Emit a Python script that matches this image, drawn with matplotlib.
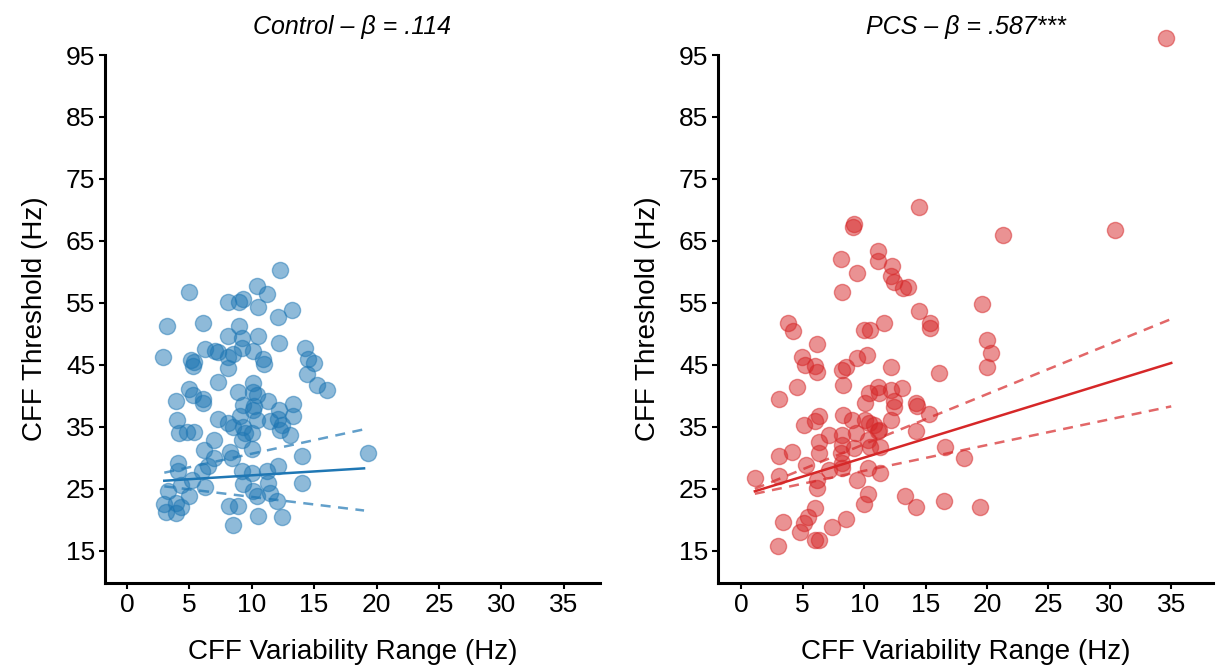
import matplotlib
matplotlib.use("Agg")
import matplotlib.pyplot as plt

plt.rcParams['font.family'] = ['Liberation Sans', 'DejaVu Sans']

# ---------------- data ----------------
ctrl_x = [12.3, 5.0, 10.4, 11.2, 8.1, 9.0, 9.3, 10.5, 13.2, 12.1, 3.2, 6.1, 9.0, 8.1, 9.2,
          10.5, 12.2, 14.3, 2.9, 6.3, 7.1, 7.3, 8.5, 8.1, 9.2, 10.1, 5.1, 5.4, 5.3, 10.9,
          11.0, 8.1, 14.5, 15.0, 14.4, 15.2, 16.0, 7.3, 5.0, 5.3, 6.1, 6.1, 3.9, 8.9, 10.1,
          10.1, 10.4, 11.3, 13.3, 9.3, 10.2, 12.2,
          4.0, 4.2, 4.8, 5.4, 7.3, 8.1, 8.5, 9.3, 9.5, 9.2, 10.0, 10.0, 9.1, 10.1, 10.4,
          11.5, 12.1, 12.4, 12.3, 13.3, 13.1, 7.0, 6.2, 8.3, 8.4, 7.0, 14.0, 4.1, 4.1, 6.5,
          6.0, 5.2, 4.3, 9.2, 10.0, 11.2, 12.1, 9.3, 11.3, 14.0, 6.3, 3.3, 10.1, 10.4, 11.5,
          12.0, 5.0, 3.0, 3.9, 4.3, 3.1, 3.9, 8.2, 8.9, 10.5, 12.4, 8.5, 19.3]
ctrl_y = [60.3, 56.7, 57.8, 56.5, 55.1, 55.1, 55.6, 54.4, 53.9, 52.8, 51.3, 51.7, 51.3, 49.6, 49.4,
          49.7, 48.6, 47.7, 46.2, 47.6, 47.3, 47.0, 46.8, 46.2, 47.7, 47.3, 45.8, 45.4, 44.8, 45.9,
          45.2, 44.5, 46.0, 45.3, 43.5, 41.7, 41.0, 42.2, 41.1, 40.2, 39.5, 38.9, 39.1, 40.7, 42.0,
          40.7, 40.2, 39.1, 38.7, 38.5, 38.3, 37.7,
          36.1, 34.0, 34.2, 34.2, 36.2, 35.6, 34.9, 34.9, 34.0, 32.9, 34.0, 31.4, 36.7, 37.7, 36.1,
          35.9, 36.2, 35.3, 34.5, 36.7, 33.7, 32.8, 31.3, 31.0, 29.9, 29.9, 30.3, 29.2, 27.8, 28.6,
          27.9, 26.5, 25.6, 27.9, 27.5, 27.9, 28.6, 25.8, 25.9, 26.0, 25.3, 24.7, 24.7, 23.8, 24.4,
          23.1, 23.8, 22.6, 22.7, 22.0, 21.3, 21.1, 22.3, 22.3, 20.6, 20.4, 19.1, 30.8]

pcs_x = [14.5, 9.2, 9.1, 8.1, 11.1, 11.1, 9.4, 12.3, 12.2, 12.4, 13.2, 13.6, 8.2, 14.5, 15.4,
         15.4, 3.8, 4.2, 11.6, 10.0, 10.5, 6.2, 4.9, 5.2, 6.0, 6.2, 8.2, 8.5, 9.4, 10.2,
         12.2, 16.1,
         4.5, 3.1, 8.3, 10.4, 11.1, 11.2, 12.2, 13.1, 10.1, 12.4, 12.4, 14.2, 14.3, 15.3,
         5.1, 6.0, 6.3, 8.3, 9.0, 10.1, 10.8, 11.2, 12.2, 14.2, 16.6, 7.1, 8.2, 8.2, 8.1,
         8.2, 8.2, 9.2, 10.3, 10.5, 11.3, 6.3, 6.3, 4.1, 3.1, 5.3, 7.1, 6.2, 6.2, 3.1, 1.1,
         10.3, 11.3, 9.4, 10.3, 10.0, 13.3, 14.2, 16.5, 6.0, 5.4, 5.1, 4.8, 3.4, 7.4, 8.5,
         6.0, 6.3, 3.0, 9.3, 10.4, 11.1,
         21.3, 30.4, 19.6, 20.0, 20.3, 20.0, 18.1, 19.4, 34.6]
pcs_y = [70.5, 67.7, 67.2, 62.1, 63.3, 61.7, 59.8, 60.9, 59.4, 58.4, 57.4, 57.5, 56.7, 53.7, 51.7,
         50.9, 51.8, 50.4, 51.8, 50.6, 50.6, 48.4, 46.3, 45.0, 44.8, 43.8, 44.2, 44.6, 46.1, 46.6,
         44.6, 43.7,
         41.5, 39.5, 41.8, 40.4, 41.5, 40.4, 41.0, 41.2, 38.8, 39.1, 38.2, 38.8, 38.3, 37.1,
         35.3, 35.9, 36.8, 36.9, 36.1, 36.1, 35.3, 34.5, 36.1, 34.4, 31.8, 33.7, 33.7, 32.1, 30.8,
         29.1, 28.3, 31.6, 32.9, 31.8, 31.8, 32.6, 30.8, 31.0, 30.3, 28.9, 28.1, 26.5, 25.1, 27.1, 26.7,
         28.3, 27.5, 26.5, 24.2, 22.6, 23.9, 22.1, 23.0, 21.9, 20.5, 19.5, 18.1, 19.6, 18.9, 20.2,
         16.8, 16.7, 15.7, 34.0, 35.6, 34.3,
         66.0, 66.7, 54.9, 49.0, 46.9, 44.7, 30.0, 22.0, 97.7]

# fitted regression line and its dashed bounds
ctrl_fit_x = [3.0, 19.0]
ctrl_fit_y = [26.3, 28.3]
ctrl_upper_y = [27.6, 34.6]
ctrl_lower_y = [25.4, 21.5]

pcs_fit_x = [1.1, 35.0]
pcs_fit_y = [24.6, 45.3]
pcs_upper_y = [25.0, 52.4]
pcs_lower_y = [24.2, 38.3]

titles = ["Control – β = .114", "PCS – β = .587***"]
x_ticks = [0, 5, 10, 15, 20, 25, 30, 35]
y_ticks = [15, 25, 35, 45, 55, 65, 75, 85, 95]

blue = '#1f77b4'
red = '#d62728'

fig = plt.figure(figsize=(12.19, 6.69), dpi=100)
ax1 = fig.add_axes([105 / 1219, 1 - 583 / 669, 495 / 1219, 528 / 669])
ax2 = fig.add_axes([718 / 1219, 1 - 583 / 669, 495 / 1219, 528 / 669])

panels = [
    (ax1, ctrl_x, ctrl_y, ctrl_fit_x, ctrl_fit_y, ctrl_upper_y, ctrl_lower_y, blue, titles[0], (-1.75, 37.9)),
    (ax2, pcs_x, pcs_y, pcs_fit_x, pcs_fit_y, pcs_upper_y, pcs_lower_y, red, titles[1], (-1.9, 38.4)),
]

for ax, xs, ys, fx, fy, fu, fl, col, title, xl in panels:
    ax.scatter(xs, ys, s=135, color=col, alpha=0.5, edgecolors=col, linewidths=1.0,
               clip_on=False, zorder=2)
    ax.plot(fx, fy, color=col, lw=1.8, zorder=3)
    ax.plot(fx, fu, color=col, lw=1.8, ls=(0, (4, 3)), alpha=0.7, zorder=3)
    ax.plot(fx, fl, color=col, lw=1.8, ls=(0, (4, 3)), alpha=0.7, zorder=3)
    ax.set_xlim(*xl)
    ax.set_ylim(9.8, 95)
    ax.set_xticks(x_ticks)
    ax.set_yticks(y_ticks)
    ax.spines['top'].set_visible(False)
    ax.spines['right'].set_visible(False)
    ax.spines['left'].set_linewidth(2.2)
    ax.spines['bottom'].set_linewidth(2.2)
    ax.tick_params(axis='both', labelsize=19, length=4, width=1.5, pad=3)
    ax.set_xlabel("CFF Variability Range (Hz)", fontsize=20, labelpad=16)
    ax.set_ylabel("CFF Threshold (Hz)", fontsize=20, labelpad=13)
    ax.set_title(title, fontsize=18, style='italic', pad=15)

fig.savefig("out.png", dpi=100)
